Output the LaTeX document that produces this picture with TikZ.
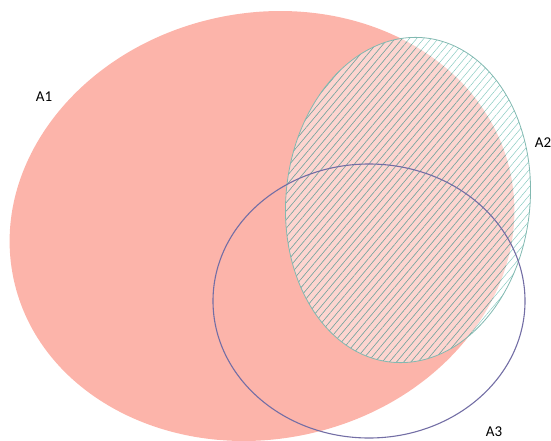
\documentclass[tikz,border=0pt]{standalone}
\usepackage{fontspec}
\setmainfont{Carlito}
\usetikzlibrary{patterns.meta}

\definecolor{setone}{RGB}{252,180,170}
\definecolor{settwo}{RGB}{130,200,190}
\definecolor{setthree}{RGB}{115,110,165}

\begin{document}
\begin{tikzpicture}[
    x=1pt, y=-1pt,
    setlabel/.style={font=\fontsize{15}{18}\selectfont, inner sep=1pt},
    hatch/.style={pattern={Lines[angle=50, distance=5.5pt, line width=0.45pt]}, pattern color=#1}
]
\useasboundingbox (0,0) rectangle (551,441);

% A1
\fill[setone, rotate around={12:(262,226)}] (262,226) ellipse [x radius=254, y radius=213];
% A2
\fill[white, opacity=0.45, rotate around={-6:(408,200)}] (408,200) ellipse [x radius=122, y radius=163];
\fill[hatch=settwo, rotate around={-6:(408,200)}] (408,200) ellipse [x radius=122, y radius=163];
\begin{scope}
  \clip[rotate around={12:(262,226)}] (262,226) ellipse [x radius=254, y radius=213];
  \fill[hatch=gray!60!settwo, rotate around={-6:(408,200)}] (408,200) ellipse [x radius=122, y radius=163];
\end{scope}
\draw[settwo!80!gray, line width=0.8pt, rotate around={-6:(408,200)}] (408,200) ellipse [x radius=122, y radius=163];
% A3
\draw[setthree, line width=1.1pt] (369,301) ellipse [x radius=156, y radius=137];

\node[setlabel] (labone) at (44,97) {A1};
\node[setlabel] (labtwo) at (543,143) {A2};
\node[setlabel] (labthree) at (494,432) {A3};
\end{tikzpicture}
\end{document}
